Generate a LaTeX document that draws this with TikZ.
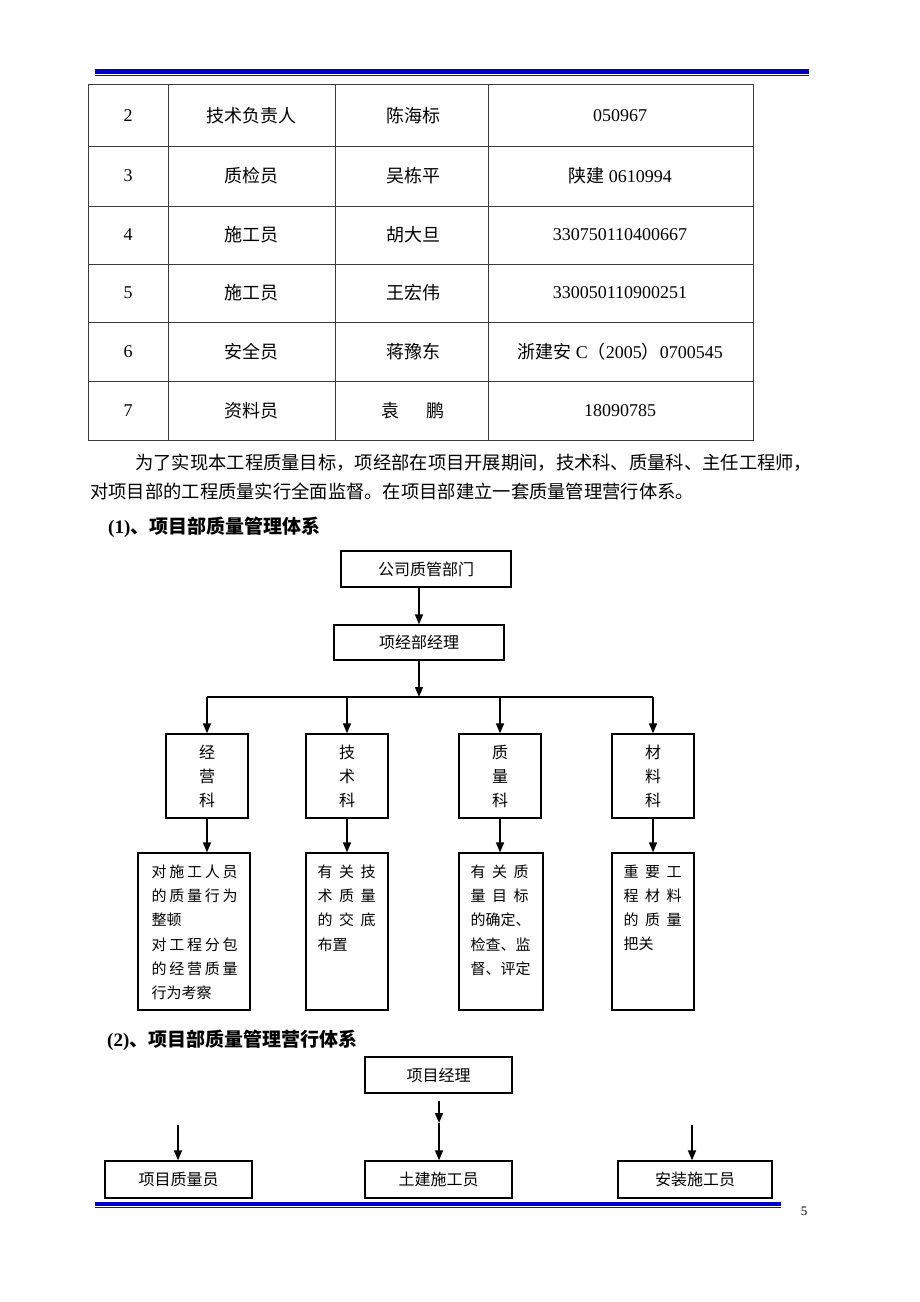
\documentclass[tikz,border=0pt]{standalone}
\usepackage{fontspec}
\setmainfont{Liberation Serif}
\newfontfamily\cjk{Noto Sans CJK SC}
\usepackage{tikz}
\usetikzlibrary{positioning}
\usetikzlibrary{arrows.meta}
\definecolor{head_blue}{RGB}{0,0,200}
\definecolor{head_navy}{RGB}{30,30,110}
\definecolor{grid_gray}{RGB}{60,60,60}
\tikzstyle{org_box} = [draw, line width = 1.3, inner sep = 0, font = {\cjk\fontsize{16}{24}\selectfont}, align = center]
\tikzstyle{note_text} = [inner sep = 0, align = left, font = {\cjk\fontsize{15}{24.3}\selectfont}]
\tikzstyle{tbl_text} = [inner sep = 0, font = {\fontsize{18}{20}\selectfont}]
\tikzstyle{para_text} = [inner sep = 0, anchor = west, font = {\cjk\fontsize{18.3}{20}\selectfont}]
\tikzstyle{head_text} = [inner sep = 0, anchor = west, font = {\bfseries\fontsize{19}{21}\selectfont}]
\tikzstyle{arr} = [-{Triangle[length = 10pt, width = 8pt]}, line width = 1.6]
\newcommand{\spreadthree}[3]{\makebox[58pt][s]{#1\hfill#2\hfill#3}}
\newcommand{\spreadfive}[5]{\makebox[86pt][s]{#1\hfill#2\hfill#3\hfill#4\hfill#5}}

\begin{document}
\begin{tikzpicture}[x = 1pt, y = -1pt]
        \fill[white] (0,0) rectangle (920,1302);
        \useasboundingbox (0,0) rectangle (920,1302);

        % page rules
        \fill[head_blue] (95,69) rectangle (809,74);
        \draw[head_navy, line width = 1] (95,75.5) -- (809,75.5);
        \fill[head_blue] (95,1202) rectangle (781,1206);
        \draw[head_navy, line width = 1] (95,1207.5) -- (781,1207.5);
        \node[inner sep = 0, font = {\fontsize{13}{15}\selectfont}] (page_no) at (804,1211) {5};

        % table
        \draw[grid_gray, line width = 1] (88,84) rectangle (753,440);
        \draw[grid_gray, line width = 1] (168,84) -- (168,440) (335,84) -- (335,440) (488,84) -- (488,440);
        \draw[grid_gray, line width = 1] (88,146) -- (753,146) (88,206) -- (753,206) (88,264) -- (753,264)
            (88,322) -- (753,322) (88,381) -- (753,381);

        \node[tbl_text] (no_2) at (128,115.5) {2};
        \node[tbl_text] (job_2) at (251,115.5) {\cjk 技术负责人};
        \node[tbl_text] (name_2) at (413,115.5) {\cjk 陈海标};
        \node[tbl_text] (cert_2) at (620,115.5) {050967};

        \node[tbl_text] (no_3) at (128,176) {3};
        \node[tbl_text] (job_3) at (251,176) {\cjk 质检员};
        \node[tbl_text] (name_3) at (413,176) {\cjk 吴栋平};
        \node[tbl_text] (cert_3) at (620,176) {{\cjk 陕建} 0610994};

        \node[tbl_text] (no_4) at (128,235) {4};
        \node[tbl_text] (job_4) at (251,235) {\cjk 施工员};
        \node[tbl_text] (name_4) at (413,235) {\cjk 胡大旦};
        \node[tbl_text] (cert_4) at (620,235) {330750110400667};

        \node[tbl_text] (no_5) at (128,293) {5};
        \node[tbl_text] (job_5) at (251,293) {\cjk 施工员};
        \node[tbl_text] (name_5) at (413,293) {\cjk 王宏伟};
        \node[tbl_text] (cert_5) at (620,293) {330050110900251};

        \node[tbl_text] (no_6) at (128,351.5) {6};
        \node[tbl_text] (job_6) at (251,351.5) {\cjk 安全员};
        \node[tbl_text] (name_6) at (413,351.5) {\cjk 蒋豫东};
        \node[tbl_text] (cert_6) at (620,351.5) {{\cjk 浙建安} C{\cjk （}2005{\cjk ）}0700545};

        \node[tbl_text] (no_7) at (128,410.5) {7};
        \node[tbl_text] (job_7) at (251,410.5) {\cjk 资料员};
        \node[tbl_text] (name_7) at (413,410.5) {\cjk 袁\hspace{28pt}鹏};
        \node[tbl_text] (cert_7) at (620,410.5) {18090785};

        % text
        \node[para_text] (para_1) at (135,463) {为了实现本工程质量目标，项经部在项目开展期间，技术科、质量科、主任工程师，};
        \node[para_text] (para_2) at (90,491) {对项目部的工程质量实行全面监督。在项目部建立一套质量管理营行体系。};
        \node[head_text] (head_1) at (108,527) {(1){\cjk 、项目部质量管理体系}};

        % chart 1
        \node[org_box, minimum width = 170, minimum height = 36] (gs) at (426,569) {公司质管部门};
        \node[org_box, minimum width = 170, minimum height = 35] (xjb) at (419,642.5) {项经部经理};
        \coordinate (bus) at (419,697);

        \node[org_box, minimum width = 82, minimum height = 84] (d_jy) at (207,776) {经\\营\\科};
        \node[org_box, minimum width = 82, minimum height = 84] (d_js) at (347,776) {技\\术\\科};
        \node[org_box, minimum width = 82, minimum height = 84] (d_zl) at (500,776) {质\\量\\科};
        \node[org_box, minimum width = 82, minimum height = 84] (d_cl) at (653,776) {材\\料\\科};

        \node[org_box, minimum width = 112, minimum height = 157] (n_jy) at (194,931.5) {};
        \node[org_box, minimum width = 82, minimum height = 157] (n_js) at (347,931.5) {};
        \node[org_box, minimum width = 84, minimum height = 157] (n_zl) at (501,931.5) {};
        \node[org_box, minimum width = 82, minimum height = 157] (n_cl) at (653,931.5) {};

        \node[note_text, below right = 12pt and 14pt of n_jy.north west] (t_jy)
            {\spreadfive{对}{施}{工}{人}{员}\\\spreadfive{的}{质}{量}{行}{为}\\整顿\\
             \spreadfive{对}{工}{程}{分}{包}\\\spreadfive{的}{经}{营}{质}{量}\\行为考察};
        \node[note_text, below right = 12pt and 12pt of n_js.north west] (t_js)
            {\spreadthree{有}{关}{技}\\\spreadthree{术}{质}{量}\\\spreadthree{的}{交}{底}\\布置};
        \node[note_text, below right = 12pt and 12pt of n_zl.north west] (t_zl)
            {\spreadthree{有}{关}{质}\\\spreadthree{量}{目}{标}\\的确定、\\检查、监\\督、评定};
        \node[note_text, below right = 12pt and 12pt of n_cl.north west] (t_cl)
            {\spreadthree{重}{要}{工}\\\spreadthree{程}{材}{料}\\\spreadthree{的}{质}{量}\\把关};

        \draw[arr] (gs.south -| xjb) -- (xjb.north);
        \draw[arr] (xjb.south) -- (bus);
        \draw[line width = 1.6] (bus -| d_jy) -- (bus -| d_cl);
        \draw[arr] (bus -| d_jy) -- (d_jy.north);
        \draw[arr] (bus -| d_js) -- (d_js.north);
        \draw[arr] (bus -| d_zl) -- (d_zl.north);
        \draw[arr] (bus -| d_cl) -- (d_cl.north);
        \draw[arr] (d_jy.south) -- (d_jy.south |- n_jy.north);
        \draw[arr] (d_js.south) -- (d_js.south |- n_js.north);
        \draw[arr] (d_zl.south) -- (d_zl.south |- n_zl.north);
        \draw[arr] (d_cl.south) -- (d_cl.south |- n_cl.north);

        % chart 2
        \node[head_text] (head_2) at (107,1040) {(2){\cjk 、项目部质量管理营行体系}};
        \node[org_box, minimum width = 147, minimum height = 36] (xmjl) at (438.5,1075) {项目经理};
        \node[org_box, minimum width = 147, minimum height = 37] (zly) at (178.5,1179.5) {项目质量员};
        \node[org_box, minimum width = 147, minimum height = 37] (tjy) at (438.5,1179.5) {土建施工员};
        \node[org_box, minimum width = 154, minimum height = 37] (azy) at (695,1179.5) {安装施工员};
        \coordinate (zly_in) at (178,1125);
        \coordinate (tjy_in) at (439,1101);
        \coordinate (tjy_mid) at (439,1123);
        \coordinate (azy_in) at (692,1125);

        \draw[arr] (zly_in) -- (zly_in |- zly.north);
        \draw[arr] (tjy_in) -- (tjy_mid);
        \draw[arr] (tjy_mid) -- (tjy_mid |- tjy.north);
        \draw[arr] (azy_in) -- (azy_in |- azy.north);
    \end{tikzpicture}
\end{document}
